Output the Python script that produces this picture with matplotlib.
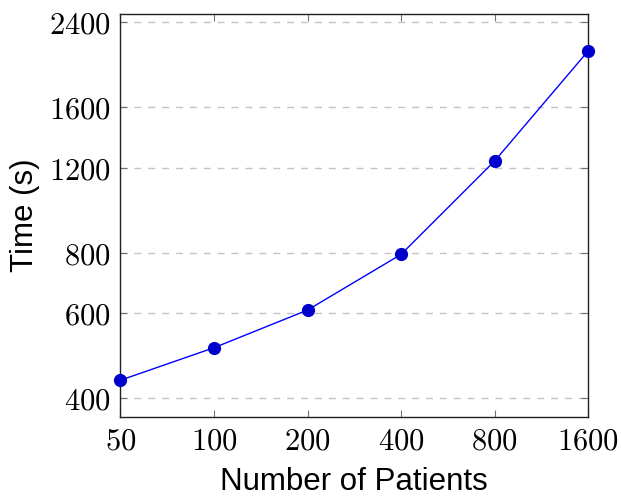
import matplotlib
matplotlib.use("Agg")
import matplotlib.pyplot as plt
from matplotlib.ticker import FixedLocator, FuncFormatter, NullLocator

plt.rcParams['mathtext.fontset'] = 'cm'

patients = [50, 100, 200, 400, 800, 1600]
time_s = [436, 509, 609, 794, 1239, 2093]
x_ticks = [50, 100, 200, 400, 800, 1600]
y_ticks = [400, 600, 800, 1200, 1600, 2400]

fig = plt.figure(figsize=(6.21, 4.97), dpi=100)
ax = fig.add_axes([0.194, 0.1616, 0.753, 0.8112])

ax.set_xscale('log', base=2)
ax.set_yscale('log')

ax.plot(patients, time_s, color=(0, 0, 1), lw=1.0, marker='o',
        markersize=8.5, markerfacecolor=(0, 0, 0.8), markeredgecolor=(0, 0, 0.8),
        clip_on=False, zorder=3)

ax.set_xlim(50, 1600)
ax.set_ylim(366.4, 2503)

fmt = FuncFormatter(lambda v, p: r'$%d$' % round(v))
ax.xaxis.set_major_locator(FixedLocator(x_ticks))
ax.yaxis.set_major_locator(FixedLocator(y_ticks))
ax.xaxis.set_minor_locator(NullLocator())
ax.yaxis.set_minor_locator(NullLocator())
ax.xaxis.set_major_formatter(fmt)
ax.yaxis.set_major_formatter(fmt)

ax.tick_params(axis='both', which='major', direction='in', length=5, width=0.8,
               color='#707070', labelsize=22, top=True, right=True, pad=7)

ax.yaxis.grid(True, linestyle=(0, (5, 5)), color='#c4c4c4', lw=1.0)
ax.set_axisbelow(True)

for s in ax.spines.values():
    s.set_linewidth(1.0)
    s.set_color('#202020')

ax.set_xlabel('Number of Patients', fontsize=22.5, family='Liberation Sans', labelpad=8)
ax.set_ylabel('Time (s)', fontsize=22.5, family='Liberation Sans', labelpad=6)

fig.savefig('out.png', dpi=100)
